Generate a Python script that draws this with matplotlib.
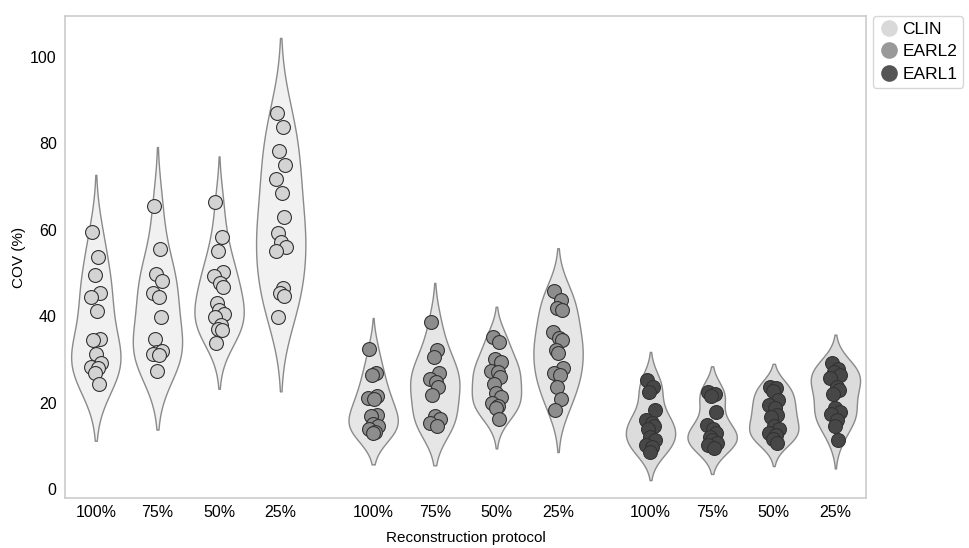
import matplotlib
matplotlib.use('Agg')
import matplotlib.pyplot as plt
from matplotlib.lines import Line2D
import numpy as np

plt.rcParams['font.family'] = ['Liberation Sans', 'DejaVu Sans']

# ---- data (COV %) ----
protocols = ['100%', '75%', '50%', '25%']
groups = ['CLIN', 'EARL2', 'EARL1']

clin_100 = [59.6, 53.7, 49.5, 45.3, 44.5, 41.3, 34.7, 34.5, 31.2, 29.1, 28.3, 28.0, 26.8, 24.3]
clin_75 = [65.5, 55.5, 49.8, 48.2, 45.3, 44.4, 39.8, 34.7, 31.8, 32.0, 31.2, 31.0, 27.4]
clin_50 = [66.4, 58.4, 55.1, 50.2, 49.4, 47.8, 46.8, 43.0, 41.4, 40.5, 39.9, 38.0, 37.0, 36.8, 33.8]
clin_25 = [87.1, 83.7, 78.3, 75.0, 71.8, 68.4, 62.9, 59.3, 57.2, 56.1, 55.2, 46.5, 45.3, 44.7, 39.9]

earl2_100 = [32.3, 26.8, 26.5, 21.5, 21.0, 20.8, 17.2, 16.8, 15.0, 14.5, 13.8, 13.3, 13.0]
earl2_75 = [38.6, 32.1, 30.6, 26.8, 25.5, 24.8, 23.6, 21.8, 16.8, 16.2, 15.2, 14.6]
earl2_50 = [35.3, 34.1, 30.2, 29.5, 27.4, 27.0, 26.0, 24.3, 22.3, 21.2, 19.8, 19.3, 18.7, 16.3]
earl2_25 = [45.9, 43.7, 41.8, 41.4, 36.4, 35.0, 34.5, 32.2, 31.4, 27.9, 26.8, 26.4, 23.7, 20.8, 18.4]

earl1_100 = [25.2, 23.7, 22.4, 18.4, 16.0, 15.4, 14.5, 14.0, 12.1, 11.3, 10.2, 9.8, 8.6]
earl1_75 = [22.5, 22.1, 21.5, 17.9, 14.8, 14.0, 12.9, 12.0, 11.3, 10.6, 10.2, 9.4]
earl1_50 = [23.7, 23.3, 22.8, 20.6, 19.4, 18.8, 17.1, 16.6, 14.5, 14.0, 13.0, 12.5, 11.7, 10.6]
earl1_25 = [29.2, 27.7, 27.2, 26.5, 25.6, 23.7, 22.9, 22.1, 18.7, 17.9, 17.4, 16.0, 14.6, 11.3]

data = {
    'CLIN': [clin_100, clin_75, clin_50, clin_25],
    'EARL2': [earl2_100, earl2_75, earl2_50, earl2_25],
    'EARL1': [earl1_100, earl1_75, earl1_50, earl1_25],
}

# ---- styles ----
violin_fill = {'CLIN': '#f1f1f1', 'EARL2': '#e6e6e6', 'EARL1': '#dcdcdc'}
point_col = {'CLIN': '#d3d3d3', 'EARL2': '#8d8d8d', 'EARL1': '#474747'}
legend_col = {'CLIN': '#d9d9d9', 'EARL2': '#999999', 'EARL1': '#555555'}
JITTER = [-0.06, 0.04, -0.02, 0.07, -0.08, 0.02, 0.06, -0.04, 0.0, 0.08, -0.07, 0.03, -0.01, 0.05, -0.05]


def kde_violin(vals, cut=2.0, n=200):
    # gaussian kde, scott bandwidth (like seaborn default)
    v = np.asarray(vals, dtype=float)
    bw = v.std(ddof=1) * len(v) ** (-1 / 5)
    grid = np.linspace(v.min() - cut * bw, v.max() + cut * bw, n)
    dens = np.exp(-0.5 * ((grid[:, None] - v[None, :]) / bw) ** 2).sum(axis=1)
    return grid, dens / dens.max()


fig = plt.figure(figsize=(9.7, 5.48), dpi=100)
ax = fig.add_axes([0.067, 0.091, 0.826, 0.88])

positions, labels = [], []
pos = 0.0
for g in groups:
    for i, p in enumerate(protocols):
        vals = data[g][i]
        grid, dens = kde_violin(vals)
        half = 0.4 * dens
        ax.fill_betweenx(grid, pos - half, pos + half, facecolor=violin_fill[g],
                         edgecolor='#8a8a8a', linewidth=1.0, zorder=2)
        xs = [pos + JITTER[k % len(JITTER)] for k in range(len(vals))]
        ax.scatter(xs, vals, s=100, color=point_col[g], edgecolor='#333333',
                   linewidth=0.8, zorder=3)
        positions.append(pos)
        labels.append(p)
        pos += 1
    pos += 0.5

ax.set_xticks(positions)
ax.set_xticklabels(labels)
ax.set_xlim(-0.5, 12.5)
ax.set_ylim(-2.1, 109.5)
ax.set_yticks([0, 20, 40, 60, 80, 100])
ax.tick_params(axis='both', length=0, labelsize=11.5, pad=6)
ax.tick_params(axis='x', pad=5)
ax.set_ylabel('COV (%)', fontsize=11, labelpad=3)
ax.set_xlabel('Reconstruction protocol', fontsize=11, labelpad=8)
for s in ax.spines.values():
    s.set_color('#cccccc')
    s.set_linewidth(1.2)

handles = [Line2D([0], [0], marker='o', linestyle='', markersize=12,
                  markerfacecolor=legend_col[g], markeredgecolor='none', label=g)
           for g in groups]
leg = ax.legend(handles=handles, loc='upper left', bbox_to_anchor=(1.004, 1.008),
                fontsize=12.5, frameon=True, handletextpad=0.25, borderpad=0.35,
                labelspacing=0.42, handlelength=1.1, borderaxespad=0.2)
leg.get_frame().set_edgecolor('#cccccc')

fig.savefig('out.png', dpi=100)
